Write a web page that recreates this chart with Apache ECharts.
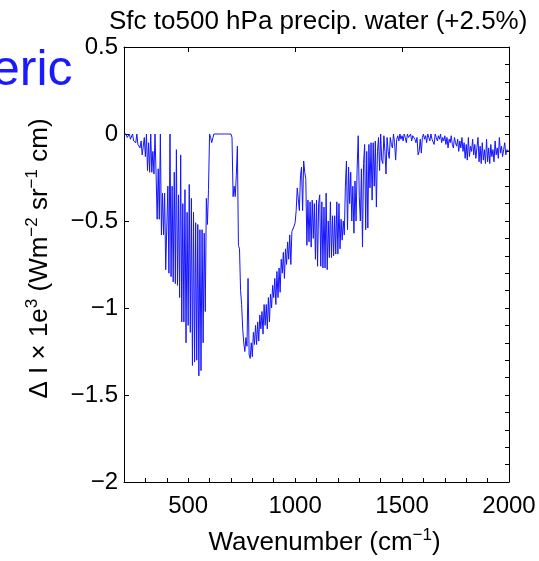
<!DOCTYPE html>
<html><head><meta charset="utf-8">
<script src="https://cdn.jsdelivr.net/npm/echarts@6/dist/echarts.min.js"></script>
<style>html,body{margin:0;padding:0;background:#fff}#c{width:539px;height:561px}</style>
</head><body><div id="c"></div>
<script>
const titleText = 'Sfc to500 hPa precip. water (+2.5%)';
const sideText = 'eric';
const xName = '{b|Wavenumber (cm}{s|\u22121}{b|)}';
const yName = '{b|\u0394 I \u00d7 1e}{s|3}{b| (Wm}{s|\u22122}{b| sr}{s|\u22121}{b| cm)}';
const xTickLabels = [500, 1000, 1500, 2000];
const yTickLabels = [0.5, 0, -0.5, -1, -1.5, -2];

// spectrum sampled every 5 cm^-1 from 200 cm^-1
const waveStart = 200, waveStep = 5;
const dI_200 = [0, -0.01, 0, -0.02, -0.01, 0, -0.03, -0.02, 0, -0.04, -0.03, -0.05, 0, -0.06, -0.05, -0.08, -0.04, -0.12, -0.13, -0.02];
const dI_300 = [-0.13, 0, -0.21, -0.05, -0.22, 0, -0.22, -0.10, -0.23, 0, -0.23, -0.49, -0.20, -0.49, 0, -0.58, -0.34, -0.58, -0.34, -0.78];
const dI_400 = [-0.78, -0.30, -0.80, 0, -0.82, -0.30, -0.85, -0.22, -0.86, -0.09, -0.87, -0.35, -0.94, -0.12, -1.08, -0.40, -1.08, -0.32, -1.20, -0.45];
const dI_500 = [-1.10, -0.29, -1.14, -0.37, -1.33, -0.45, -1.31, -0.51, -1.30, -0.52, -1.39, -0.55, -1.36, -0.55, -1.20, -0.57, -1.02, -0.37, -0.52, -0.32];
const dI_600 = [0, -0.02, -0.05, -0.04, 0, 0, 0, 0, 0, 0, 0, 0, 0, 0, 0, 0, 0, 0, 0, 0];
const dI_700 = [0, -0.02, -0.36, -0.30, -0.36, -0.24, -0.07, -0.64, -0.66, -0.90, -0.98, -1.12, -1.20, -1.25, -1.17, -1.22, -0.83, -1.27, -1.29, -1.20];
const dI_800 = [-1.28, -1.14, -1.21, -1.10, -1.21, -1.08, -1.19, -1.04, -1.12, -1.02, -1.15, -0.98, -1.10, -0.98, -1.12, -0.94, -1.08, -0.92, -1.00, -0.87];
const dI_900 = [-0.94, -0.83, -0.98, -0.79, -0.94, -0.77, -0.91, -0.72, -0.80, -0.68, -0.83, -0.66, -0.75, -0.62, -0.72, -0.58, -0.75, -0.56, -0.55, -0.53];
const dI_1000 = [-0.51, -0.44, -0.31, -0.30, -0.44, -0.24, -0.19, -0.44, -0.155, -0.22, -0.26, -0.64, -0.38, -0.62, -0.39, -0.65, -0.38, -0.60, -0.40, -0.72];
const dI_1100 = [-0.38, -0.76, -0.40, -0.35, -0.76, -0.39, -0.77, -0.42, -0.77, -0.34, -0.78, -0.50, -0.71, -0.39, -0.71, -0.47, -0.70, -0.47, -0.69, -0.39];
const dI_1200 = [-0.69, -0.40, -0.66, -0.49, -0.61, -0.50, -0.58, -0.30, -0.155, -0.55, -0.19, -0.40, -0.22, -0.50, -0.30, -0.57, -0.27, -0.50, -0.20, -0.01];
const dI_1300 = [-0.36, -0.50, -0.20, -0.65, -0.17, -0.06, -0.55, -0.10, -0.54, -0.06, -0.31, -0.05, -0.38, -0.05, -0.30, -0.04, -0.42, -0.10, -0.02, -0.21];
const dI_1400 = [0, -0.15, -0.17, -0.01, -0.10, -0.23, -0.02, -0.10, -0.14, -0.02, -0.06, -0.08, 0, -0.05, -0.15, -0.03, -0.01, -0.04, 0, -0.03];
const dI_1500 = [-0.01, -0.04, 0, -0.02, -0.05, 0, -0.02, -0.03, 0, -0.04, -0.01, 0, -0.03, -0.05, -0.02, -0.12, -0.10, -0.03, -0.11, -0.02];
const dI_1600 = [0, -0.03, -0.01, -0.05, 0, -0.02, -0.04, 0, -0.03, -0.02, -0.06, 0, -0.02, -0.04, -0.01, -0.03, 0, -0.05, -0.02, -0.04];
const dI_1700 = [-0.01, -0.06, -0.02, -0.08, -0.03, -0.05, -0.01, -0.06, -0.08, -0.02, -0.05, -0.07, -0.03, -0.10, -0.04, -0.08, -0.02, -0.10, -0.05, -0.14];
const dI_1800 = [-0.06, -0.15, -0.02, -0.13, -0.07, -0.10, -0.03, -0.12, -0.06, -0.14, -0.08, -0.02, -0.16, -0.07, -0.17, -0.05, -0.15, -0.09, -0.17, -0.03];
const dI_1900 = [-0.16, -0.08, -0.17, -0.06, -0.13, -0.09, -0.16, -0.04, -0.12, -0.08, -0.14, -0.02, -0.11, -0.07, -0.13, -0.09, -0.05, -0.12, -0.09, -0.10, -0.10];

const deltaI = [].concat(dI_200, dI_300, dI_400, dI_500, dI_600, dI_700, dI_800, dI_900,
  dI_1000, dI_1100, dI_1200, dI_1300, dI_1400, dI_1500, dI_1600, dI_1700, dI_1800, dI_1900);
const seriesData = deltaI.map((v, i) => [waveStart + i * waveStep, v]);

const FONT = 'Liberation Sans, Arial, Helvetica, sans-serif';
const chart = echarts.init(document.getElementById('c'), null, {renderer: 'canvas'});
const lineBlack = {show: true, onZero: false, lineStyle: {color: '#000', width: 1}};
const richName = {
  b: {fontSize: 26, lineHeight: 32, fontFamily: FONT, color: '#000'},
  s: {fontSize: 17, lineHeight: 19, fontFamily: FONT, color: '#000', verticalAlign: 'top'}
};
chart.setOption({
  animation: false,
  backgroundColor: '#fff',
  title: {text: titleText, left: 104, top: 4,
    textStyle: {fontSize: 26, fontWeight: 'normal', color: '#000', fontFamily: FONT}},
  graphic: [{type: 'text', left: -8, top: 46,
    style: {text: sideText, fill: '#1a1aff', font: '50px ' + FONT}}],
  grid: {left: 124, right: 30, top: 47, bottom: 77, containLabel: false},
  xAxis: [
    {type: 'value', position: 'bottom', min: 200, max: 2000, interval: 100,
     axisLine: lineBlack, splitLine: {show: false},
     axisTick: {inside: true, length: 4, lineStyle: {color: '#000'}},
     axisLabel: {formatter: v => xTickLabels.includes(v) ? String(v) : '', fontSize: 24,
       color: '#000', fontFamily: FONT, margin: 12},
     name: xName, nameLocation: 'middle', nameGap: 45,
     nameTextStyle: {rich: richName, padding: [0, 0, 0, 16]}},
    {type: 'value', position: 'top', min: 200, max: 2000, splitNumber: 4,
     axisLine: lineBlack, splitLine: {show: false},
     axisTick: {inside: true, length: 5, lineStyle: {color: '#000'}},
     axisLabel: {show: false}}
  ],
  yAxis: [
    {type: 'value', position: 'left', min: -2, max: 0.5, interval: 0.5,
     axisLine: lineBlack, splitLine: {show: false},
     axisTick: {inside: true, length: 5, lineStyle: {color: '#000'}},
     axisLabel: {formatter: v => yTickLabels.includes(v) ? String(v).replace('-', '\u2212') : '',
       fontSize: 24, color: '#000', fontFamily: FONT, margin: 6},
     name: yName, nameLocation: 'middle', nameGap: 68, nameRotate: 90,
     nameTextStyle: {rich: richName, padding: [0, 0, 0, 12]}},
    {type: 'value', position: 'right', min: -2, max: 0.5, interval: 0.1,
     axisLine: lineBlack, splitLine: {show: false},
     axisTick: {inside: true, length: 4, lineStyle: {color: '#000'}},
     axisLabel: {show: false}}
  ],
  series: [{type: 'line', xAxisIndex: 0, yAxisIndex: 0, data: seriesData,
    showSymbol: false, symbol: 'none',
    lineStyle: {color: '#1414ff', width: 1}, itemStyle: {color: '#1414ff'}}]
});
</script>
</body></html>
